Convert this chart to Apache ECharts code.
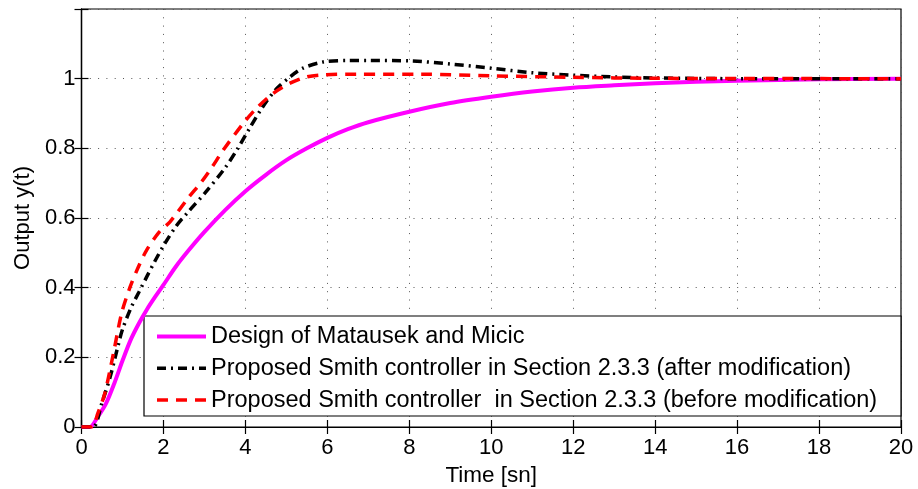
<!DOCTYPE html>
<html>
<head>
<meta charset="utf-8">
<title>Step response</title>
<script src="https://cdn.jsdelivr.net/npm/echarts@6/dist/echarts.min.js"></script>
<style>
  html, body { margin: 0; padding: 0; background: #fff; }
  #chart { width: 918px; height: 489px; }
</style>
</head>
<body>
<div id="chart"></div>
<script>
// Step responses y(t) of three controller designs
var xTicks = [0, 2, 4, 6, 8, 10, 12, 14, 16, 18, 20];
var yTicks = [0, 0.2, 0.4, 0.6, 0.8, 1];

var seriesNames = [
  'Design of Matausek and Micic',
  'Proposed Smith controller in Section 2.3.3 (after modification)',
  'Proposed Smith controller  in Section 2.3.3 (before modification)'
];

// Matausek and Micic design
var timeMM = [0, 0.2, 0.4, 0.6, 0.8, 1.0, 1.2, 1.4, 1.6, 1.8, 2.0, 2.3, 2.6, 3.0, 3.5, 4.0, 4.5, 5.0, 5.5, 6.0, 6.5, 7.0, 8.0, 9.0, 10, 11, 12, 13, 14, 15, 16, 18, 20];
var outMM  = [0, 0, 0.03, 0.068, 0.125, 0.19, 0.25, 0.297, 0.338, 0.374, 0.408, 0.46, 0.505, 0.56, 0.622, 0.677, 0.724, 0.766, 0.80, 0.83, 0.855, 0.875, 0.905, 0.93, 0.948, 0.963, 0.974, 0.981, 0.987, 0.991, 0.994, 0.998, 1.0];

// Smith controller, after modification
var timeAfter = [0, 0.28, 0.5, 0.7, 0.9, 1.0, 1.2, 1.4, 1.6, 1.8, 2.0, 2.3, 2.6, 3.0, 3.5, 3.8, 4.1, 4.4, 4.75, 5.1, 5.4, 5.9, 6.5, 7.0, 8.0, 9.0, 10, 11, 12, 13, 14, 16, 20];
var outAfter  = [0, 0, 0.07, 0.144, 0.237, 0.28, 0.34, 0.387, 0.433, 0.478, 0.52, 0.575, 0.617, 0.67, 0.743, 0.797, 0.857, 0.915, 0.97, 1.006, 1.03, 1.048, 1.052, 1.052, 1.051, 1.042, 1.03, 1.017, 1.01, 1.005, 1.002, 1.0, 1.0];

// Smith controller, before modification
var timeBefore = [0, 0.25, 0.4, 0.57, 0.78, 0.98, 1.18, 1.39, 1.59, 1.9, 2.16, 2.6, 2.93, 3.18, 3.46, 3.95, 4.27, 4.68, 5.09, 5.5, 5.9, 6.7, 8.3, 10, 12, 14, 20];
var outBefore  = [0, 0, 0.04, 0.097, 0.212, 0.327, 0.40, 0.46, 0.508, 0.56, 0.589, 0.657, 0.704, 0.745, 0.795, 0.872, 0.915, 0.958, 0.987, 1.005, 1.011, 1.013, 1.013, 1.008, 1.004, 1.001, 1.0];

function pairs(ts, vs) {
  return ts.map(function (t, i) { return [t, vs[i]]; });
}

var FONT = "'Liberation Sans', Arial, Helvetica, sans-serif";
var gridDots = { show: true, lineStyle: { color: '#555', width: 1, type: [1, 7.3] } };
var colors = ['#ff00ff', '#000000', '#ff0000'];
var widths = [4, 3.5, 3.5];
var dashes = ['solid', [9, 5, 2, 5], [11, 8]];

var chart = echarts.init(document.getElementById('chart'), null, { renderer: 'canvas' });

chart.setOption({
  animation: false,
  backgroundColor: '#fff',
  textStyle: { fontFamily: FONT, color: '#000' },
  grid: {
    left: 81.5, right: 17, top: 9, bottom: 62,
    outerBoundsMode: 'none', containLabel: false,
    show: true, borderColor: '#000', borderWidth: 1.2, backgroundColor: 'transparent'
  },
  xAxis: [{
    type: 'value', min: xTicks[0], max: xTicks[xTicks.length - 1], interval: 2,
    position: 'bottom',
    name: 'Time [sn]', nameLocation: 'middle', nameGap: 36,
    nameTextStyle: { fontSize: 22.5, fontFamily: FONT, color: '#000' },
    axisLine: { show: true, lineStyle: { color: '#000', width: 1.2 } },
    axisTick: { show: true, inside: true, length: 7, lineStyle: { color: '#000', width: 1.2 } },
    axisLabel: { fontSize: 22, fontFamily: FONT, color: '#000', margin: 10 },
    splitLine: gridDots
  }, {
    type: 'value', min: xTicks[0], max: xTicks[xTicks.length - 1], interval: 2,
    position: 'top',
    axisLine: { show: true, lineStyle: { color: '#000', width: 1.2 } },
    axisTick: { show: true, inside: true, length: 7, lineStyle: { color: '#000', width: 1.2 } },
    axisLabel: { show: false },
    splitLine: { show: false }
  }],
  yAxis: [{
    type: 'value', min: 0, max: 1.2, interval: 0.2,
    position: 'left',
    name: 'Output y(t)', nameLocation: 'middle', nameGap: 48,
    nameTextStyle: { fontSize: 22, fontFamily: FONT, color: '#000' },
    axisLine: { show: true, lineStyle: { color: '#000', width: 1.2 } },
    axisTick: { show: true, inside: true, length: 7, lineStyle: { color: '#000', width: 1.2 } },
    axisLabel: {
      fontSize: 22, fontFamily: FONT, color: '#000', margin: 6,
      formatter: function (v) {
        var hit = yTicks.filter(function (t) { return Math.abs(t - v) < 1e-9; });
        return hit.length ? String(hit[0]) : '';
      }
    },
    splitLine: gridDots
  }, {
    type: 'value', min: 0, max: 1.2, interval: 0.2,
    position: 'right',
    axisLine: { show: true, lineStyle: { color: '#000', width: 1.2 } },
    axisTick: { show: true, inside: true, length: 7, lineStyle: { color: '#000', width: 1.2 } },
    axisLabel: { show: false },
    splitLine: { show: false }
  }],
  graphic: [{
    type: 'rect', z: 3, silent: true,
    shape: { x: 144, y: 316, width: 757, height: 100 },
    style: { fill: '#fff', stroke: '#000', lineWidth: 1.2 }
  }],
  legend: {
    orient: 'vertical', left: 155, top: 324.5, padding: 0, z: 5,
    itemWidth: 49, itemHeight: 14, itemGap: 7.8,
    itemStyle: { opacity: 0 },
    textStyle: { fontSize: 23.5, fontFamily: FONT, color: '#000', lineHeight: 24, padding: [0, 0, 0, 0] },
    data: seriesNames.map(function (n, i) {
      return { name: n, lineStyle: { width: widths[i], color: colors[i], type: dashes[i] } };
    })
  },
  series: seriesNames.map(function (n, i) {
    var src = [[timeMM, outMM], [timeAfter, outAfter], [timeBefore, outBefore]][i];
    return {
      name: n, type: 'line', data: pairs(src[0], src[1]),
      showSymbol: false, symbol: 'none', smooth: 0.3,
      lineStyle: { color: colors[i], width: widths[i], type: dashes[i] },
      itemStyle: { color: colors[i] }
    };
  })
});
</script>
</body>
</html>
